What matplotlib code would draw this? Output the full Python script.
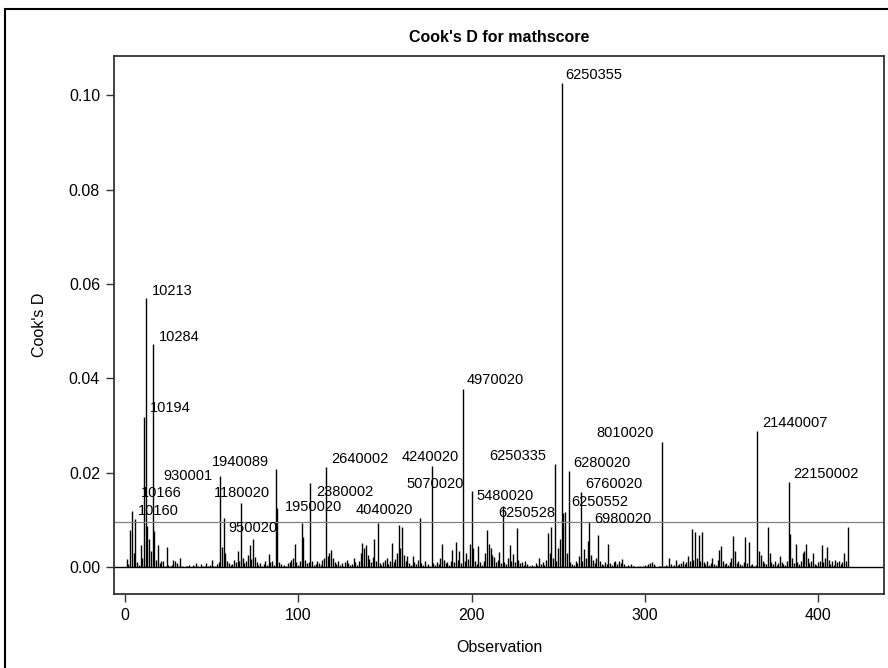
import numpy as np
import matplotlib
matplotlib.use("Agg")
import matplotlib.pyplot as plt
from matplotlib.patches import Rectangle

plt.rcParams['font.family'] = ['Liberation Sans', 'DejaVu Sans']

# Cook's D per observation (obs 1..417)
cooks_d = [
    0.0018, 0.0006, 0.0078, 0.0119, 0.0030, 0.0102, 0.0010, 0.0004, 0.0046, 0.0020,
    0.0319, 0.0570, 0.0088, 0.0060, 0.0035, 0.0472, 0.0076, 0.0015, 0.0046, 0.0008,
    0.0012, 0.0012, 0.0003, 0.0042, 0.0005, 0.0002, 0.0004, 0.0015, 0.0012, 0.0008,
    0.0003, 0.0020, 0.0002, 0.0001, 0.0003, 0.0002, 0.0005, 0.0001, 0.0004, 0.0002,
    0.0008, 0.0003, 0.0001, 0.0006, 0.0002, 0.0003, 0.0009, 0.0002, 0.0004, 0.0014,
    0.0003, 0.0002, 0.0006, 0.0010, 0.0193, 0.0042, 0.0105, 0.0030, 0.0012, 0.0008,
    0.0004, 0.0006, 0.0015, 0.0010, 0.0035, 0.0012, 0.0136, 0.0020, 0.0008, 0.0012,
    0.0025, 0.0046, 0.0018, 0.0059, 0.0022, 0.0010, 0.0005, 0.0008, 0.0003, 0.0006,
    0.0012, 0.0005, 0.0028, 0.0010, 0.0012, 0.0004, 0.0208, 0.0125, 0.0010, 0.0006,
    0.0002, 0.0004, 0.0003, 0.0008, 0.0010, 0.0015, 0.0020, 0.0048, 0.0010, 0.0004,
    0.0012, 0.0093, 0.0064, 0.0015, 0.0008, 0.0010, 0.0179, 0.0012, 0.0004, 0.0006,
    0.0012, 0.0008, 0.0004, 0.0015, 0.0020, 0.0212, 0.0024, 0.0030, 0.0037, 0.0020,
    0.0010, 0.0006, 0.0012, 0.0004, 0.0008, 0.0003, 0.0010, 0.0016, 0.0008, 0.0004,
    0.0006, 0.0020, 0.0010, 0.0004, 0.0012, 0.0030, 0.0052, 0.0040, 0.0047, 0.0025,
    0.0018, 0.0010, 0.0022, 0.0059, 0.0012, 0.0093, 0.0008, 0.0004, 0.0010, 0.0015,
    0.0020, 0.0006, 0.0012, 0.0051, 0.0010, 0.0018, 0.0030, 0.0090, 0.0040, 0.0086,
    0.0025, 0.0012, 0.0023, 0.0008, 0.0004, 0.0023, 0.0010, 0.0006, 0.0015, 0.0105,
    0.0008, 0.0004, 0.0012, 0.0003, 0.0006, 0.0002, 0.0214, 0.0008, 0.0004, 0.0010,
    0.0006, 0.0020, 0.0049, 0.0015, 0.0008, 0.0010, 0.0004, 0.0012, 0.0037, 0.0010,
    0.0054, 0.0015, 0.0035, 0.0008, 0.0377, 0.0012, 0.0030, 0.0018, 0.0050, 0.0162,
    0.0040, 0.0012, 0.0006, 0.0045, 0.0010, 0.0004, 0.0012, 0.0030, 0.0078, 0.0050,
    0.0040, 0.0025, 0.0022, 0.0010, 0.0015, 0.0032, 0.0008, 0.0129, 0.0010, 0.0006,
    0.0020, 0.0047, 0.0012, 0.0028, 0.0010, 0.0082, 0.0015, 0.0008, 0.0010, 0.0004,
    0.0012, 0.0006, 0.0003, 0.0002, 0.0004, 0.0003, 0.0008, 0.0004, 0.0020, 0.0006,
    0.0010, 0.0004, 0.0015, 0.0073, 0.0030, 0.0085, 0.0020, 0.0218, 0.0012, 0.0040,
    0.0060, 0.1026, 0.0114, 0.0117, 0.0030, 0.0203, 0.0010, 0.0006, 0.0004, 0.0012,
    0.0008, 0.0023, 0.0160, 0.0012, 0.0039, 0.0020, 0.0055, 0.0096, 0.0025, 0.0015,
    0.0008, 0.0020, 0.0068, 0.0012, 0.0006, 0.0004, 0.0010, 0.0006, 0.0048, 0.0008,
    0.0004, 0.0010, 0.0012, 0.0006, 0.0012, 0.0008, 0.0017, 0.0006, 0.0003, 0.0004,
    0.0002, 0.0006, 0.0003, 0.0002, 0.0001, 0.0003, 0.0002, 0.0001, 0.0002, 0.0004,
    0.0003, 0.0006, 0.0008, 0.0010, 0.0006, 0.0002, 0.0001, 0.0002, 0.0003, 0.0265,
    0.0002, 0.0004, 0.0003, 0.0020, 0.0006, 0.0003, 0.0005, 0.0015, 0.0004, 0.0006,
    0.0008, 0.0012, 0.0006, 0.0010, 0.0023, 0.0012, 0.0080, 0.0015, 0.0074, 0.0020,
    0.0069, 0.0012, 0.0074, 0.0010, 0.0006, 0.0012, 0.0004, 0.0008, 0.0020, 0.0006,
    0.0004, 0.0015, 0.0036, 0.0044, 0.0012, 0.0006, 0.0008, 0.0004, 0.0010, 0.0020,
    0.0066, 0.0034, 0.0008, 0.0012, 0.0006, 0.0004, 0.0010, 0.0063, 0.0008, 0.0053,
    0.0004, 0.0006, 0.0002, 0.0004, 0.0289, 0.0035, 0.0025, 0.0012, 0.0008, 0.0006,
    0.0085, 0.0030, 0.0010, 0.0006, 0.0012, 0.0004, 0.0008, 0.0023, 0.0010, 0.0006,
    0.0004, 0.0012, 0.0181, 0.0071, 0.0020, 0.0008, 0.0049, 0.0010, 0.0006, 0.0012,
    0.0030, 0.0035, 0.0049, 0.0020, 0.0008, 0.0012, 0.0030, 0.0006, 0.0004, 0.0010,
    0.0012, 0.0047, 0.0010, 0.0020, 0.0042, 0.0015, 0.0006, 0.0012, 0.0004, 0.0015,
    0.0010, 0.0012, 0.0006, 0.0010, 0.0030, 0.0012, 0.0085,
]
obs = np.arange(1, len(cooks_d) + 1)
cutoff = 4 / len(cooks_d)

# influential points and their ids
label_obs = [4, 6, 11, 12, 16, 55, 57, 67, 87, 88, 107, 116, 170, 177, 195,
             200, 218, 248, 252, 253, 254, 256, 263, 268, 310, 365, 383]
label_text = ['10166', '10160', '10194', '10213', '10284', '930001', '950020',
              '1180020', '1940089', '1950020', '2380002', '2640002', '4040020',
              '4240020', '4970020', '5070020', '5480020', '6250335', '6250355',
              '6250528', '6250552', '6280020', '6760020', '6980020', '8010020',
              '21440007', '22150002']
# (dx px, dy px, alignment) for each label
label_pos = [(9, 18, 'left'), (3, 8, 'left'), (6, 9, 'left'), (6, 7, 'left'),
             (6, 7, 'left'), (-8, 0, 'right'), (5, -10, 'left'), (1, 10, 'center'),
             (-7, 7, 'right'), (7, 1, 'left'), (6, -9, 'left'), (5, 8, 'left'),
             (-7, 8, 'right'), (-1, 9, 'center'), (4, 9, 'left'), (-8, 7, 'right'),
             (2, 10, 'center'), (-8, 8, 'right'), (4, 8, 'left'), (-8, 0, 'right'),
             (6, 10, 'left'), (5, 8, 'left'), (5, 8, 'left'), (5, 3, 'left'),
             (-8, 9, 'right'), (5, 8, 'left'), (5, 8, 'left')]

fig = plt.figure(figsize=(8.88, 6.68), dpi=100)
ax = fig.add_axes([114 / 888, 74 / 668, 770 / 888, 538 / 668])

ax.vlines(obs, 0, cooks_d, color='black', lw=1.0)
ax.axhline(0, color='black', lw=1.0)
ax.axhline(cutoff, color='#808080', lw=0.9)

for o, t, (dx, dy, ha) in zip(label_obs, label_text, label_pos):
    ax.annotate(t, xy=(o, cooks_d[o - 1]), xytext=(dx, dy),
                textcoords='offset pixels', ha=ha, va='center', fontsize=10.5)

ax.set_xlim(-6.3, 438)
ax.set_ylim(-0.0057, 0.1083)
ax.set_xticks([0, 100, 200, 300, 400])
ax.set_yticks([0.0, 0.02, 0.04, 0.06, 0.08, 0.10])
ax.set_yticklabels(['0.00', '0.02', '0.04', '0.06', '0.08', '0.10'])
ax.tick_params(direction='out', length=6, width=1, labelsize=11.5,
               color='#333333', pad=4)
for s in ax.spines.values():
    s.set_linewidth(1.3)
    s.set_color('#333333')

ax.set_xlabel('Observation', fontsize=11.5, labelpad=12)
ax.set_ylabel("Cook's D", fontsize=11.5, labelpad=16)
ax.set_title("Cook's D for mathscore", fontsize=11.5, fontweight='bold', pad=10)

# outer frame around the graph
fig.patches.append(Rectangle((5 / 888, -0.1), 1.2, 1.1 - 9 / 668, fill=False,
                             lw=1.5, edgecolor='black', transform=fig.transFigure))

fig.savefig('out.png', dpi=100)
